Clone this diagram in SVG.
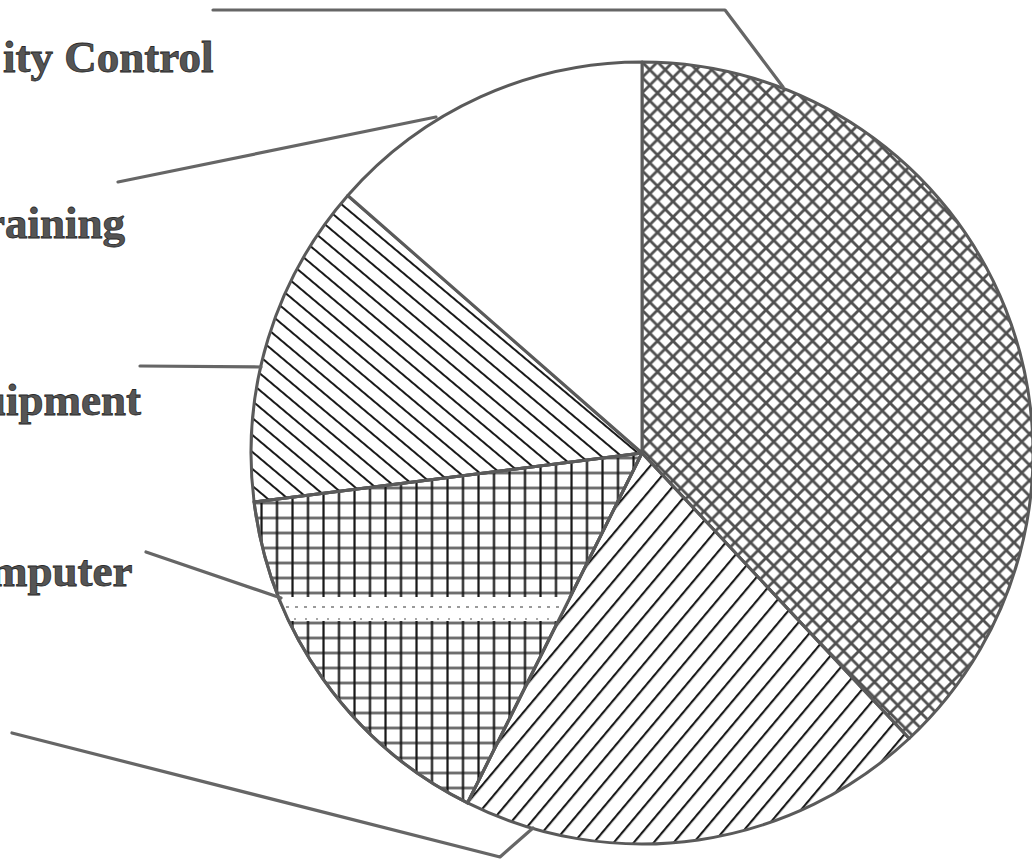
<svg xmlns="http://www.w3.org/2000/svg" width="1032" height="862" viewBox="0 0 1032 862">
<style>
.lbl{font-family:"Liberation Serif","Times New Roman",serif;font-weight:bold;font-size:45px;fill:#555555;stroke:#2a2a2a;stroke-width:0.8}
.slice{stroke:#5a5a5a;stroke-width:3;stroke-linejoin:round}
.lead{fill:none;stroke:#666666;stroke-width:3.2;stroke-linecap:round;stroke-linejoin:round}
</style>
<defs>
<pattern id="xhatch" patternUnits="userSpaceOnUse" width="15.5" height="15.5" x="642" y="62">
<path d="M-1,-1 L16.5,16.5 M16.5,-1 L-1,16.5" stroke="#505050" stroke-width="2.8" fill="none"/>
</pattern>
<pattern id="fwd" patternUnits="userSpaceOnUse" width="40" height="15.3" patternTransform="rotate(-50)">
<line x1="0" y1="2" x2="40" y2="2" stroke="#1a1a1a" stroke-width="2"/>
</pattern>
<pattern id="back" patternUnits="userSpaceOnUse" width="40" height="13" patternTransform="rotate(40)">
<line x1="0" y1="2" x2="40" y2="2" stroke="#1a1a1a" stroke-width="1.9"/>
</pattern>
<pattern id="grid" patternUnits="userSpaceOnUse" width="15.5" height="15" x="275.5" y="561.5">
<line x1="0" y1="1.5" x2="15.5" y2="1.5" stroke="#5e5e5e" stroke-width="2.6"/>
<line x1="1.5" y1="0" x2="1.5" y2="15" stroke="#151515" stroke-width="2.2"/>
</pattern>
<clipPath id="compClip">
<path d="M642,453 L467.5,802.9 A391,391 0 0 1 254.1,502 Z"/>
</clipPath>
</defs>
<rect x="0" y="0" width="1032" height="862" fill="#ffffff"/>

<g id="slice-quality-control">
<path class="slice" fill="url(#xhatch)" d="M642,453 L642,62 A391,391 0 0 1 909.2,738.5 Z"/>
</g>
<g id="slice-other">
<path class="slice" fill="url(#fwd)" d="M642,453 L909.2,738.5 A391,391 0 0 1 467.5,802.9 Z"/>
</g>
<g id="slice-computer">
<path class="slice" fill="url(#grid)" d="M642,453 L467.5,802.9 A391,391 0 0 1 254.1,502 Z"/>
<g clip-path="url(#compClip)">
<rect x="240" y="597" width="420" height="24" fill="#ffffff"/>
<line x1="250" y1="607" x2="660" y2="607" stroke="#7a7a7a" stroke-width="1.6" stroke-dasharray="3 6"/>
<line x1="250" y1="619" x2="660" y2="619" stroke="#8a8a8a" stroke-width="1.4" stroke-dasharray="2 9"/>
</g>
<path d="M642,453 L467.5,802.9 A391,391 0 0 1 254.1,502 Z" fill="none" stroke="#5a5a5a" stroke-width="3"/>
</g>
<g id="slice-equipment">
<path class="slice" fill="url(#back)" d="M642,453 L254.1,502 A391,391 0 0 1 347.8,195.5 Z"/>
</g>
<g id="slice-training">
<path class="slice" fill="#ffffff" d="M642,453 L347.8,195.5 A391,391 0 0 1 642,62 Z"/>
</g>

<g id="connectors">
<path class="lead" d="M213,10 L725,10 L783,87"/>
<path class="lead" d="M118,182 L436,117"/>
<path class="lead" d="M140,366 L261,367"/>
<path class="lead" d="M146,552 L281,598"/>
<path class="lead" d="M12,733 L500,857 L533,828"/>
</g>

<g id="label-quality-control"><text class="lbl" x="3" y="72">ity Control</text></g>
<g id="label-training"><text class="lbl" x="-15" y="238">raining</text></g>
<g id="label-equipment"><text class="lbl" x="-19" y="415">uipment</text></g>
<g id="label-computer"><text class="lbl" x="-10" y="586">mputer</text></g>
</svg>
